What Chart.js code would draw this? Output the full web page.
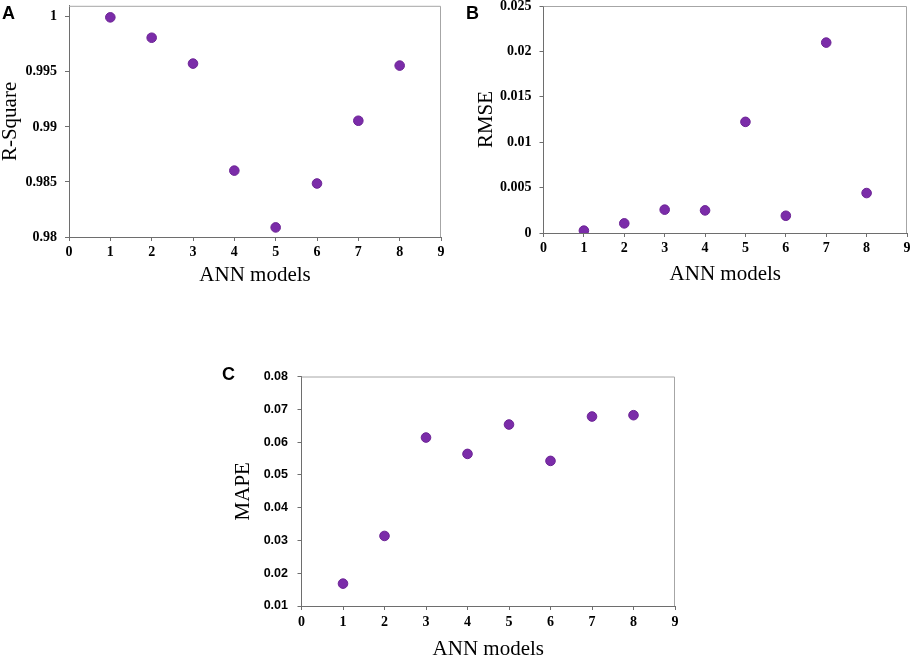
<!DOCTYPE html>
<html lang="en">
<head>
    <meta charset="UTF-8">
    <title>ANN models</title>
    <script src="https://cdn.jsdelivr.net/npm/chart.js"></script>
    <style>
        html, body { margin: 0; padding: 0; background: #fff; overflow: hidden; }
        body { width: 913px; height: 658px; position: relative; }
        .panel { position: absolute; }
        .tag { position: absolute; font: bold 18px "Liberation Sans", Arial, sans-serif; line-height: 18px; color: #000; }
    </style>
</head>
<body>
    <div class="panel" style="left:0;top:0;width:450px;height:290px"><canvas id="chartA"></canvas></div>
    <div class="panel" style="left:476px;top:0;width:437px;height:290px"><canvas id="chartB"></canvas></div>
    <div class="panel" style="left:233px;top:330px;width:450px;height:340px"><canvas id="chartC"></canvas></div>
    <div class="tag" style="left:2px;top:4px">A</div>
    <div class="tag" style="left:466px;top:4px">B</div>
    <div class="tag" style="left:222px;top:365px">C</div>

    <script>
        // values
        const models = [1, 2, 3, 4, 5, 6, 7, 8];
        const rSquare = [0.99995, 0.9981, 0.99575, 0.98603, 0.98087, 0.98486, 0.99056, 0.99557];
        const rmse = [0.00026, 0.00106, 0.00257, 0.00249, 0.01224, 0.0019, 0.02097, 0.0044];
        const mape = [0.01682, 0.03137, 0.06138, 0.05639, 0.06535, 0.05426, 0.06779, 0.0682];

        const xTicks = [0, 1, 2, 3, 4, 5, 6, 7, 8, 9];
        const yTicksA = [0.98, 0.985, 0.99, 0.995, 1];
        const yTicksB = [0, 0.005, 0.01, 0.015, 0.02, 0.025];
        const yTicksC = [0.01, 0.02, 0.03, 0.04, 0.05, 0.06, 0.07, 0.08];

        const serif = '"Liberation Serif", "Times New Roman", serif';
        const sans = '"Liberation Sans", Arial, sans-serif';

        // light grey top and right edges of the plot frame
        const frame = {
            id: 'frame',
            afterDraw(chart) {
                const a = chart.chartArea, ctx = chart.ctx;
                ctx.save();
                ctx.strokeStyle = '#a6a6a6';
                ctx.lineWidth = 1;
                ctx.beginPath();
                ctx.moveTo(a.left, a.top + 0.5);
                ctx.lineTo(a.right - 0.5, a.top + 0.5);
                ctx.lineTo(a.right - 0.5, a.bottom);
                ctx.stroke();
                ctx.restore();
            }
        };

        function fmt(v) {
            return String(Number(v.toFixed(4)));
        }

        let makeChart = function (id, values, yTicks, o) {
            return new Chart(document.getElementById(id), {
                type: 'scatter',
                data: {
                    datasets: [{
                        data: models.map((m, i) => ({ x: m, y: values[i] })),
                        backgroundColor: '#7b2ca9',
                        borderColor: '#6c2495',
                        borderWidth: 1,
                        pointRadius: 4.8,
                        pointHoverRadius: 4.8
                    }]
                },
                options: {
                    responsive: true,
                    maintainAspectRatio: false,
                    animation: false,
                    layout: { padding: { left: 0, top: o.top, right: o.right, bottom: 0 } },
                    plugins: { legend: { display: false }, tooltip: { enabled: false } },
                    scales: {
                        x: {
                            type: 'linear',
                            min: 0,
                            max: 9,
                            afterBuildTicks: s => { s.ticks = xTicks.map(v => ({ value: v })); },
                            afterFit: s => { s.height = o.xh; s.paddingLeft = 0; s.paddingRight = 0; },
                            grid: { drawOnChartArea: false, drawTicks: true, tickLength: 4, color: '#6e6e6e' },
                            border: { display: true, color: '#6e6e6e', width: 1 },
                            ticks: {
                                color: '#000',
                                padding: o.xpad,
                                maxRotation: 0,
                                font: { family: serif, size: 14, weight: 'bold' }
                            },
                            title: {
                                display: true,
                                text: 'ANN models',
                                color: '#000',
                                padding: { top: 0, bottom: o.tpad },
                                font: { family: serif, size: 21, lineHeight: 1 }
                            }
                        },
                        y: {
                            type: 'linear',
                            min: o.min,
                            max: o.max,
                            afterBuildTicks: s => { s.ticks = yTicks.map(v => ({ value: v })); },
                            afterFit: s => { s.width = o.yw; s.paddingTop = 0; s.paddingBottom = 0; },
                            grid: { drawOnChartArea: false, drawTicks: true, tickLength: 4, color: '#6e6e6e' },
                            border: { display: true, color: '#6e6e6e', width: 1 },
                            ticks: {
                                color: '#000',
                                padding: o.ypad,
                                callback: v => fmt(v),
                                font: o.yfont
                            },
                            title: {
                                display: true,
                                text: o.title,
                                color: '#000',
                                padding: 0,
                                font: { family: serif, size: 21, lineHeight: 1 }
                            }
                        }
                    }
                },
                plugins: [frame]
            });
        };

        makeChart('chartA', rSquare, yTicksA, {
            title: 'R-Square', min: 0.98, max: 1.001,
            top: 5, right: 9, xh: 53, yw: 69, xpad: 3, ypad: 8, tpad: 4.5,
            yfont: { family: serif, size: 14, weight: 'bold' }
        });
        makeChart('chartB', rmse, yTicksB, {
            title: 'RMSE', min: 0, max: 0.025,
            top: 6, right: 6, xh: 57, yw: 67.5, xpad: 3, ypad: 8, tpad: 5.5,
            yfont: { family: serif, size: 14, weight: 'bold' }
        });
        makeChart('chartC', mape, yTicksC, {
            title: 'MAPE', min: 0.01, max: 0.08,
            top: 46.5, right: 8, xh: 64, yw: 68.5, xpad: 4, ypad: 9.5, tpad: 10.5,
            yfont: { family: sans, size: 12.5, weight: 'bold' }
        });
    </script>
</body>
</html>
